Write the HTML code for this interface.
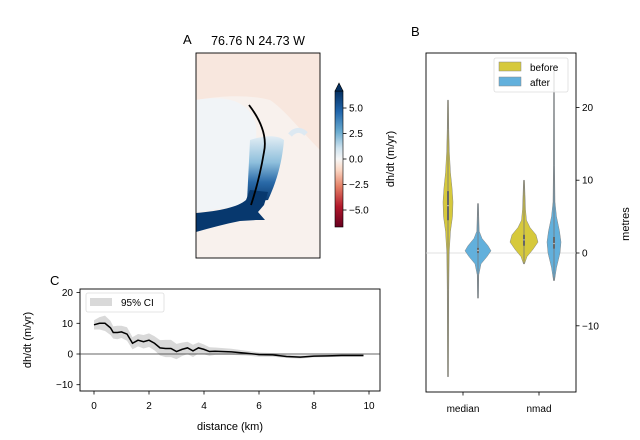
<!DOCTYPE html>
<html><head><meta charset="utf-8"><style>
html,body{margin:0;padding:0;background:#fff}
svg{display:block;font-family:"Liberation Sans","DejaVu Sans",sans-serif}
</style></head><body>
<svg id="fig" width="640" height="440" viewBox="0 0 640 440">
<defs>
<linearGradient id="cbar" x1="0" y1="1" x2="0" y2="0">
<stop offset="0" stop-color="#67001f"/><stop offset="0.15" stop-color="#b2182b"/>
<stop offset="0.3" stop-color="#e58268"/><stop offset="0.42" stop-color="#fbd7c4"/>
<stop offset="0.5" stop-color="#f7f7f7"/><stop offset="0.58" stop-color="#cfe3ef"/>
<stop offset="0.7" stop-color="#6aacd0"/><stop offset="0.85" stop-color="#2166ac"/>
<stop offset="1" stop-color="#053061"/></linearGradient>
<linearGradient id="trunk" x1="0" y1="1" x2="0" y2="0">
<stop offset="0" stop-color="#08386e"/><stop offset="0.3" stop-color="#2a6aa8"/>
<stop offset="0.6" stop-color="#8ebfdc"/><stop offset="1" stop-color="#e2edf4"/></linearGradient>
<clipPath id="mapclip"><rect x="196" y="53" width="124" height="205"/></clipPath>
</defs>

<g>
<text x="183" y="44" font-size="13" fill="#000">A</text>
<text x="258" y="45" font-size="12.5" text-anchor="middle" fill="#000">76.76 N 24.73 W</text>
<g clip-path="url(#mapclip)">
<rect x="196" y="53" width="124" height="205" fill="#f8f1ed"/>
<path d="M196,53 L320,53 L320,150 C300,130 285,110 270,100 C250,95 225,95 196,100 Z" fill="#f8e7de"/>
<path d="M196,100 C225,95 250,100 256,125 C258,150 250,180 247,205 L196,212 Z" fill="#f1f4f7"/>
<path d="M250,140 C262,136 276,134 284,140 C282,165 275,185 268,200 L247,202 Z" fill="url(#trunk)"/>
<path d="M196,213 C220,211 238,207 246,200 L250,190 L268,192 L264,205 L258,212 L265,220 L256,220 L240,221 C225,224 210,228 196,232 Z" fill="#07386e"/>
<path d="M290,135 C296,128 302,130 306,134" fill="none" stroke="#dde9f2" stroke-width="5"/>
</g>
<rect x="196" y="53" width="124" height="205" fill="none" stroke="#000" stroke-width="0.9"/>
<path id="transect" d="M249,105 C262,122 267,138 264,152 C261,170 256,190 251,205" fill="none" stroke="#000" stroke-width="1.8"/>
</g>
<g id="colorbar">
<rect x="335" y="91" width="8" height="136" fill="url(#cbar)" stroke="#000" stroke-width="0.6"/>
<path d="M335,91 L339,83 L343,91 Z" fill="#053061" stroke="#000" stroke-width="0.6"/>
<text x="394" y="159" font-size="11" text-anchor="middle" transform="rotate(-90 394 159)" fill="#000">dh/dt (m/yr)</text>
</g>

<g id="panelB">
<text x="411" y="36" font-size="13" fill="#000">B</text>
<rect x="426" y="53" width="150" height="339" fill="#fff" stroke="#000" stroke-width="0.9"/>
<text x="629" y="224" font-size="11" text-anchor="middle" transform="rotate(-90 629 224)" fill="#000">metres</text>
</g>

<g id="panelC">
<text x="50" y="285" font-size="13" fill="#000">C</text>
<rect x="80" y="289" width="300" height="102" fill="#fff" stroke="#000" stroke-width="0.9"/>
<text x="31" y="340" font-size="11" text-anchor="middle" transform="rotate(-90 31 340)" fill="#000">dh/dt (m/yr)</text>
<text x="230" y="430" font-size="11" text-anchor="middle" fill="#000">distance (km)</text>
</g>
</svg>
<script>
const NS='http://www.w3.org/2000/svg';
function mk(tag,attrs,parent){const e=document.createElementNS(NS,tag);for(const k in attrs)e.setAttribute(k,attrs[k]);parent.appendChild(e);return e;}

const cbarTicks=[5.0,2.5,0.0,-2.5,-5.0];
const cbarTickLabels=['5.0','2.5','0.0','\u22122.5','\u22125.0'];
const cb=document.getElementById('colorbar');
const cbY=v=>159-v*10.2;
cbarTicks.forEach((v,i)=>{
  const t=mk('line',{x1:343,x2:346.5,y1:cbY(v),y2:cbY(v),stroke:'#000','stroke-width':0.8},cb);
  
  
  const l=mk('text',{x:349,y:cbY(v)+3.5,'font-size':10,fill:'#000'},cb);
  l.textContent=cbarTickLabels[i];
  
  
});

const bCategories=['median','nmad'];
const bSeries=['before','after'];
const bYTicks=[20,10,0,-10];
const bYTickLabels=['20','10','0','\u221210'];
const profBeforeMedian=[[-17,0.5],[-5,0.8],[0,1.2],[3,2.5],[5,4.5],[7,5],[9,4],[11,2.5],[14,1.3],[17,0.8],[21,0.5]];
const profAfterMedian=[[-6.2,0.5],[-3,0.8],[-1.5,3],[-0.5,9],[0.3,13],[1,10],[2,4],[3,1.2],[5,0.8],[6.8,0.5]];
const profBeforeNmad=[[-1.5,0.5],[-0.5,3],[0.5,9],[1.5,14],[2.5,12],[3.5,6],[4.5,2.5],[6,1.5],[8,1],[10,0.5]];
const profAfterNmad=[[-3.8,0.5],[-2,2.5],[0,6],[1.5,7],[3,5.5],[5,2.5],[7,1],[12,0.6],[25,0.4]];
const boxBeforeMedian=[4.5,6.5,8.5];
const boxAfterMedian=[0,0.35,0.7];
const boxBeforeNmad=[1,1.8,2.5];
const boxAfterNmad=[0.6,1.3,2.2];

const B=document.getElementById('panelB');
const bY=v=>253-v*7.28;
const bCatX=i=>463+i*76;
const bOff=j=>(j===0?-15:15);
const colors=['#d6c93c','#62b0dc'];
const zl=mk('line',{x1:426,x2:576,y1:bY(0),y2:bY(0),stroke:'#d8d8d8','stroke-width':0.8},B);


const violins=[[profBeforeMedian,boxBeforeMedian,0,0],[profAfterMedian,boxAfterMedian,0,1],[profBeforeNmad,boxBeforeNmad,1,0],[profAfterNmad,boxAfterNmad,1,1]];
violins.forEach(([prof,box,ci,sj])=>{
  const cx=bCatX(ci)+bOff(sj);
  let r=prof.map(p=>(cx+p[1])+','+bY(p[0]));
  let l=prof.slice().reverse().map(p=>(cx-p[1])+','+bY(p[0]));
  const v=mk('polygon',{points:r.concat(l).join(' '),fill:colors[sj],stroke:'#888','stroke-width':0.5},B);
  
  
  const w=mk('line',{x1:cx,x2:cx,y1:bY(prof[0][0]),y2:bY(prof[prof.length-1][0]),stroke:'#777','stroke-width':0.8},B);
  
  
  const bx=mk('line',{x1:cx,x2:cx,y1:bY(box[0]),y2:bY(box[2]),stroke:'#666','stroke-width':2},B);
  
  
  const md=mk('circle',{cx:cx,cy:bY(box[1]),r:0.7,fill:'#ddd'},B);
  
  
});
bYTicks.forEach((v,i)=>{
  const t=mk('line',{x1:576,x2:579.5,y1:bY(v),y2:bY(v),stroke:'#000','stroke-width':0.8},B);
  
  
  const l=mk('text',{x:582,y:bY(v)+3.5,'font-size':10,fill:'#000'},B);
  l.textContent=bYTickLabels[i];
  
  
});
bCategories.forEach((c,i)=>{
  const t=mk('line',{x1:bCatX(i),x2:bCatX(i),y1:392,y2:395.5,stroke:'#000','stroke-width':0.8},B);
  
  
  const l=mk('text',{x:bCatX(i),y:412,'font-size':10,'text-anchor':'middle',fill:'#000'},B);
  l.textContent=c;
  
  
});
const lgB=mk('g',{},B);


mk('rect',{x:494,y:58,width:74,height:34,rx:2,fill:'#fff','fill-opacity':0.8,stroke:'#ddd','stroke-width':0.8},lgB);
bSeries.forEach((s,j)=>{
  const p=mk('rect',{x:499,y:62+j*15,width:22,height:9,fill:colors[j],stroke:'#888','stroke-width':0.5},lgB);
  
  
  const t=mk('text',{x:530,y:71+j*15,'font-size':10,fill:'#000'},lgB);
  t.textContent=s;
  
  
});

const cDist=[0,0.2,0.4,0.6,0.7,0.85,1.0,1.2,1.4,1.6,1.8,2.0,2.2,2.4,2.6,2.8,3.0,3.2,3.4,3.6,3.8,4.0,4.2,4.4,5.0,5.5,6.0,6.5,7.0,7.5,8.0,8.5,9.0,9.8];
const cValue=[9.5,10,10,8.5,7,7,7.2,6.5,3.5,4.5,4,4.5,3.5,2,1.8,1.8,0.8,1.5,2,1,2,1.5,0.8,0.9,0.7,0.3,-0.2,-0.3,-0.8,-1,-0.7,-0.6,-0.5,-0.5];
const cCIHalf=[1.5,2,2.5,2.3,2,2.2,2,2.2,2,2,2.2,2.2,2.3,2.5,2.8,2.8,2.5,2.2,2,2,1.8,1.6,1.4,1.2,1,0.8,0.7,0.6,0.5,0.5,0.4,0.4,0.4,0.4];
const cXTicks=[0,2,4,6,8,10];
const cYTicks=[20,10,0,-10];
const cYTickLabels=['20','10','0','\u221210'];
const C=document.getElementById('panelC');
const cX=d=>94+d*27.5;
const cY=v=>354-v*3.07;
const up=cDist.map((d,i)=>cX(d)+','+cY(cValue[i]+cCIHalf[i]));
const lo=cDist.map((d,i)=>cX(d)+','+cY(cValue[i]-cCIHalf[i])).reverse();
const band=mk('polygon',{points:up.concat(lo).join(' '),fill:'#d9d9d9'},C);


const z=mk('line',{x1:80,x2:380,y1:cY(0),y2:cY(0),stroke:'#333','stroke-width':0.8},C);


const ln=mk('polyline',{points:cDist.map((d,i)=>cX(d)+','+cY(cValue[i])).join(' '),fill:'none',stroke:'#000','stroke-width':1.5},C);


cXTicks.forEach(v=>{
  const t=mk('line',{x1:cX(v),x2:cX(v),y1:391,y2:394.5,stroke:'#000','stroke-width':0.8},C);
  
  
  const l=mk('text',{x:cX(v),y:409,'font-size':10,'text-anchor':'middle',fill:'#000'},C);
  l.textContent=String(v);
  
  
});
cYTicks.forEach((v,i)=>{
  const t=mk('line',{x1:76.5,x2:80,y1:cY(v),y2:cY(v),stroke:'#000','stroke-width':0.8},C);
  
  
  const l=mk('text',{x:73,y:cY(v)+3.5,'font-size':10,'text-anchor':'end',fill:'#000'},C);
  l.textContent=cYTickLabels[i];
  
  
});
const lgC=mk('g',{},C);


mk('rect',{x:86,y:293,width:78,height:19,rx:2,fill:'#fff','fill-opacity':0.8,stroke:'#ddd','stroke-width':0.8},lgC);
const sw=mk('rect',{x:90,y:298,width:22,height:8,fill:'#d9d9d9'},lgC);


const lt=mk('text',{x:121,y:306,'font-size':10,fill:'#000'},lgC);
lt.textContent='95% CI';


</script>
</body></html>
